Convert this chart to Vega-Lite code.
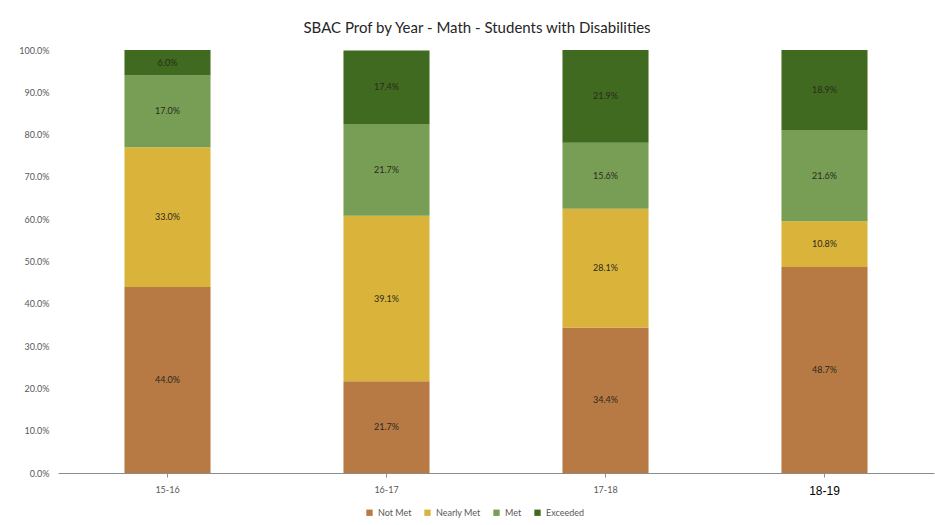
{
  "$schema": "https://vega.github.io/schema/vega-lite/v6.json",
  "autosize": {"type": "none"},
  "padding": {"left": 58, "top": 50, "right": 1, "bottom": 52},
  "width": 876,
  "height": 423,
  "background": "white",
  "title": {
    "text": "SBAC Prof by Year - Math -  Students with Disabilities",
    "font": "Lato",
    "fontSize": 15,
    "fontWeight": "normal",
    "color": "#262626",
    "anchor": "middle",
    "dx": -19,
    "offset": 10
  },
  "data": {
    "values": [
      {"year": "15-16", "level": "Not Met", "pct": 0.440},
      {"year": "15-16", "level": "Nearly Met", "pct": 0.330},
      {"year": "15-16", "level": "Met", "pct": 0.170},
      {"year": "15-16", "level": "Exceeded", "pct": 0.060},
      {"year": "16-17", "level": "Not Met", "pct": 0.217},
      {"year": "16-17", "level": "Nearly Met", "pct": 0.391},
      {"year": "16-17", "level": "Met", "pct": 0.217},
      {"year": "16-17", "level": "Exceeded", "pct": 0.174},
      {"year": "17-18", "level": "Not Met", "pct": 0.344},
      {"year": "17-18", "level": "Nearly Met", "pct": 0.281},
      {"year": "17-18", "level": "Met", "pct": 0.156},
      {"year": "17-18", "level": "Exceeded", "pct": 0.219},
      {"year": "18-19", "level": "Not Met", "pct": 0.487},
      {"year": "18-19", "level": "Nearly Met", "pct": 0.108},
      {"year": "18-19", "level": "Met", "pct": 0.216},
      {"year": "18-19", "level": "Exceeded", "pct": 0.189}
    ]
  },
  "encoding": {
    "x": {
      "field": "year",
      "type": "nominal",
      "title": null,
      "scale": {"paddingInner": 0.607, "paddingOuter": 0.3035},
      "axis": {
        "labelAngle": 0,
        "labelFont": {"condition": {"test": "datum.value == '18-19'", "value": "Liberation Sans"}, "value": "Lato"},
        "labelFontSize": {"condition": {"test": "datum.value == '18-19'", "value": 12}, "value": 9},
        "labelColor": {"condition": {"test": "datum.value == '18-19'", "value": "#000000"}, "value": "#595959"},
        "labelPadding": 8,
        "domainColor": "#8c8c8c",
        "tickColor": "#8c8c8c",
        "tickSize": 4,
        "grid": false
      }
    },
    "y": {
      "field": "pct",
      "type": "quantitative",
      "stack": "zero",
      "title": null,
      "scale": {"domain": [0, 1]},
      "axis": {
        "values": [0, 0.1, 0.2, 0.3, 0.4, 0.5, 0.6, 0.7, 0.8, 0.9, 1.0],
        "format": ".1%",
        "domain": false,
        "ticks": false,
        "grid": false,
        "labelFont": "Lato",
        "labelFontSize": 9,
        "labelColor": "#595959",
        "labelPadding": 9
      }
    }
  },
  "layer": [
    {
      "mark": {"type": "bar"},
      "encoding": {
        "color": {
          "field": "level",
          "type": "nominal",
          "sort": ["Not Met", "Nearly Met", "Met", "Exceeded"],
          "scale": {
            "domain": ["Not Met", "Nearly Met", "Met", "Exceeded"],
            "range": ["#B77A45", "#DAB43A", "#789E56", "#3F6A20"]
          },
          "legend": {
            "title": null,
            "orient": "none",
            "legendX": 307,
            "legendY": 458,
            "direction": "horizontal",
            "symbolType": "square",
            "symbolSize": 40,
            "symbolStrokeWidth": 0,
            "labelFont": "Lato",
            "labelFontSize": 9,
            "labelColor": "#595959",
            "columnPadding": 11
          }
        },
        "order": {"field": "level", "sort": "descending"}
      }
    },
    {
      "mark": {"type": "text", "font": "Lato", "fontSize": 9, "color": "#2a2a1a"},
      "encoding": {
        "y": {"field": "pct", "type": "quantitative", "stack": "zero", "bandPosition": 0.5},
        "detail": {"field": "level"},
        "order": {"field": "level", "sort": "descending"},
        "text": {"field": "pct", "type": "quantitative", "format": ".1%"}
      }
    }
  ],
  "config": {
    "view": {"stroke": null}
  }
}
